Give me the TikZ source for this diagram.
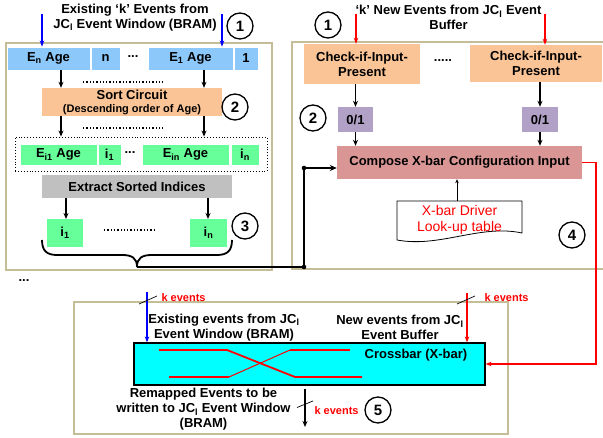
\documentclass[tikz,border=0pt]{standalone}
\usepackage{fontspec}
\setmainfont{Liberation Sans}
\usetikzlibrary{arrows.meta}
\definecolor{tanb}{RGB}{196,189,151}
\definecolor{lblue}{RGB}{140,200,250}
\definecolor{peach}{RGB}{250,196,150}
\definecolor{lgreen}{RGB}{102,255,153}
\definecolor{lgray}{RGB}{192,192,192}
\definecolor{lpurple}{RGB}{178,161,199}
\definecolor{rose}{RGB}{217,150,148}
\definecolor{xcyan}{RGB}{0,255,255}
\definecolor{xred}{RGB}{255,0,0}
\definecolor{xblue}{RGB}{0,0,255}
\newcommand{\fsz}[2]{\fontsize{#1}{#2}\selectfont}
\tikzset{
  panel/.style={draw=tanb, line width=1.5pt},
  bcell/.style={fill=lblue, draw=white, line width=0.8pt, inner sep=0pt, minimum height=23},
  gcell/.style={fill=lgreen, draw=white, line width=0.8pt, inner sep=0pt, minimum height=21},
  circ/.style={circle, draw, line width=1.3pt, minimum size=26, inner sep=0pt, font=\bfseries\fsz{15}{17}},
  arr/.style={-{Stealth[length=6pt,width=5pt]}, line width=1.1pt},
  barr/.style={-{Stealth[length=6pt,width=4.5pt]}, line width=1.4pt, draw=xblue},
  rarr/.style={-{Stealth[length=6pt,width=4.5pt]}, line width=1.4pt, draw=xred},
  dotl/.style={dotted, line width=1.3pt},
  kev/.style={anchor=west, text=xred, font=\bfseries\fsz{11}{13}},
  slash/.style={line width=0.7pt},
  xline/.style={draw=xred, line width=1.8pt},
}
\begin{document}
\begin{tikzpicture}[x=1pt, y=-1pt, font=\bfseries\fsz{13}{15}]
\useasboundingbox (0,0) rectangle (603,438);

% ---------------- panels ----------------
\draw[panel] (6,43) rectangle (272,270);
\draw[panel] (603,42) -- (292,42) -- (292,269) -- (603,269);
\draw[panel] (74,302) rectangle (508,434);

% ---------------- left panel ----------------
\node[align=center] (tl) at (135,17.5) {Existing ‘k’ Events from\\JC\textsubscript{l} Event Window (BRAM)};
\node[circ] (c1l) at (240,26) {1};

\node[bcell, minimum width=83] (en) at (48.5,58.5) {E\textsubscript{n} Age};
\node[bcell, minimum width=29] (nc) at (105.5,58.5) {n};
\node (da) at (133,57) {...};
\node[bcell, minimum width=85] (e1) at (190.5,58.5) {E\textsubscript{1} Age};
\node[bcell, minimum width=24] (oc) at (246,58.5) {1};

\coordinate (ba1) at (42,14);
\coordinate (ba2) at (222,14);
\draw[barr] (ba1) -- (ba1 |- en.north);
\draw[barr] (ba2) -- (ba2 |- e1.north);

\node[fill=peach, minimum width=180, minimum height=28, inner sep=0pt] (sort) at (132,102) {};
\node (sortt) at (132,94.5) {Sort Circuit};
\node[font=\bfseries\fsz{11}{13}] (sortd) at (132,110) {(Descending order of Age)};
\node[circ] (c2l) at (235,107) {2};

\coordinate (a1) at (61,70);
\coordinate (a2) at (204,70);
\draw[arr] (a1) -- (a1 |- sort.north);
\draw[arr] (a2) -- (a2 |- sort.north);
\coordinate (d1a) at (83,82);
\coordinate (d1b) at (163,82);
\draw[dotl] (d1a) -- (d1b);

\node[draw, dotted, line width=0.9pt, minimum width=252, minimum height=34, inner sep=0pt] (sbox) at (141,154) {};
\coordinate (a3) at (61,116);
\coordinate (a4) at (204,116);
\draw[arr] (a3) -- (a3 |- sbox.north);
\draw[arr] (a4) -- (a4 |- sbox.north);
\coordinate (d2a) at (83,128);
\coordinate (d2b) at (163,128);
\draw[dotl] (d2a) -- (d2b);

\node[gcell, minimum width=77] (ei1) at (58.5,154.5) {E\textsubscript{i1} Age};
\node[gcell, minimum width=23] (i1c) at (109.5,154.5) {i\textsubscript{1}};
\node (db) at (130,153) {...};
\node[gcell, minimum width=87] (ein) at (185.5,154.5) {E\textsubscript{in} Age};
\node[gcell, minimum width=28] (inc) at (245,154.5) {i\textsubscript{n}};

\node[fill=lgray, minimum width=190, minimum height=23, inner sep=0pt] (ext) at (137,186.5) {Extract Sorted Indices};

\node[fill=lgreen, minimum width=36, minimum height=28, inner sep=0pt] (i1b) at (65,233) {i\textsubscript{1}};
\node[fill=lgreen, minimum width=37, minimum height=28, inner sep=0pt] (inb) at (208.5,233) {i\textsubscript{n}};
\draw[arr] (ext.south -| 66,0) -- (66,219);
\draw[arr] (ext.south -| 208,0) -- (208,219);
\coordinate (d3a) at (104,230);
\coordinate (d3b) at (154,230);
\draw[dotl] (d3a) -- (d3b);
\node[circ] (c3l) at (245,226) {3};

% brace and bus
\coordinate (tip) at (137,267);
\draw[line width=1.8pt] (42,240) .. controls (42,251) and (47,255) .. (57,255) -- (122,255)
  .. controls (132,255) and (137,258) .. (tip)
  .. controls (137,258) and (142,255) .. (152,255) -- (217,255)
  .. controls (227,255) and (232,251) .. (232,240);

% ---------------- right panel ----------------
\node[align=center] (tr) at (448.5,17.5) {‘k’ New Events from JC\textsubscript{l} Event\\Buffer};
\node[circ] (c1r) at (328,25) {1};

\node[fill=peach, minimum width=116, minimum height=40, inner sep=0pt, align=center] (chk1) at (362,64) {Check-if-Input-\\Present};
\node[fill=peach, minimum width=132, minimum height=37, inner sep=0pt, align=center] (chk2) at (536,63.5) {Check-if-Input-\\Present};
\node (dc) at (443,61) {.....};

\coordinate (ra1) at (356,14);
\coordinate (ra2) at (545,14);
\draw[rarr] (ra1) -- (ra1 |- chk1.north);
\draw[rarr] (ra2) -- (ra2 |- chk2.north);

\node[fill=lpurple, minimum width=35, minimum height=25, inner sep=0pt] (b1) at (355.5,119.5) {0/1};
\node[fill=lpurple, minimum width=36, minimum height=25, inner sep=0pt] (b2) at (540,119.5) {0/1};
\node[circ] (c2r) at (313,118) {2};
\draw[arr] (chk1.south -| b1) -- (b1.north);
\draw[arr] (chk2.south -| b2) -- (b2.north);

\node[fill=rose, minimum width=245, minimum height=33, inner sep=0pt] (comp) at (459.5,162.5) {Compose X-bar Configuration Input};
\draw[arr] (b1.south) -- (b1.south |- comp.north);
\draw[arr] (b2.south) -- (b2.south |- comp.north);

% look-up table document
\draw[line width=0.8pt, fill=white] (397,201) -- (522,201) -- (522,233)
  .. controls (480,224) and (440,248) .. (397,240) -- cycle;
\node[align=center, text=xred, font=\mdseries\fsz{14}{16}] (doc) at (459.5,220) {X-bar Driver\\Look-up table};
\coordinate (doctop) at (457,201);
\draw[-{Stealth[length=4pt,width=3.5pt]}, line width=0.6pt] (doctop) -- (doctop |- comp.south);
\node[circ] (c4) at (572,235) {4};

% bus from brace to compose
\coordinate (bus1) at (304,267);
\coordinate (bus2) at (304,168);
\draw[line width=2pt] (tip) -- (bus1) -- (bus2);
\draw[-{Stealth[length=7pt,width=6pt]}, line width=2pt] (bus2) -- (bus2 -| comp.west);
\fill (bus1) circle (2.3);
\fill (bus2) circle (2.3);

% ---------------- bottom panel ----------------
\node (ell) at (24,281) {...};

\node[draw, line width=1.2pt, fill=xcyan, minimum width=351, minimum height=42, inner sep=0pt] (xbar) at (309.5,364) {};
\node (xbt) at (416,355) {Crossbar (X-bar)};
\draw[xline] (159,350) -- (227,350) -- (295,377) -- (362,377);
\draw[xline] (169,377) -- (229,377);
\draw[draw=xred, line width=1pt] (229,377) -- (290,350);
\draw[xline] (290,350) -- (350,350);

\node[align=center] (ext2) at (224,327.5) {Existing events from JC\textsubscript{l}\\Event Window (BRAM)};
\node[align=center] (new2) at (400,327.5) {New events from JC\textsubscript{l}\\Event Buffer};

\coordinate (bb) at (147,292);
\draw[barr] (bb) -- (bb |- xbar.north);
\coordinate (s1a) at (139,304);
\coordinate (s1b) at (157,296);
\draw[slash] (s1a) -- (s1b);
\node[kev] (k1) at (158,298) {k events};

\coordinate (rb) at (467,293);
\draw[rarr] (rb) -- (rb |- xbar.north);
\coordinate (s2a) at (457,304);
\coordinate (s2b) at (475,296);
\draw[slash] (s2a) -- (s2b);
\node[kev] (k2) at (481,298) {k events};

% feedback from compose to crossbar
\coordinate (r1) at (596,162.5);
\coordinate (r2) at (596,364);
\draw[rarr, line width=1.3pt] (comp.east) -- (r1) -- (r2) -- (xbar.east);

\node[align=center] (rem) at (203.5,409.5) {Remapped Events to be\\written to JC\textsubscript{l} Event Window\\(BRAM)};

\coordinate (ob) at (305,427);
\draw[arr] (xbar.south -| ob) ++(0,3) -- (ob);
\coordinate (s3a) at (297,407.5);
\coordinate (s3b) at (313,401);
\draw[slash] (s3a) -- (s3b);
\node[kev] (k3) at (311,411) {k events};
\node[circ] (c5) at (378,410) {5};
\end{tikzpicture}
\end{document}
